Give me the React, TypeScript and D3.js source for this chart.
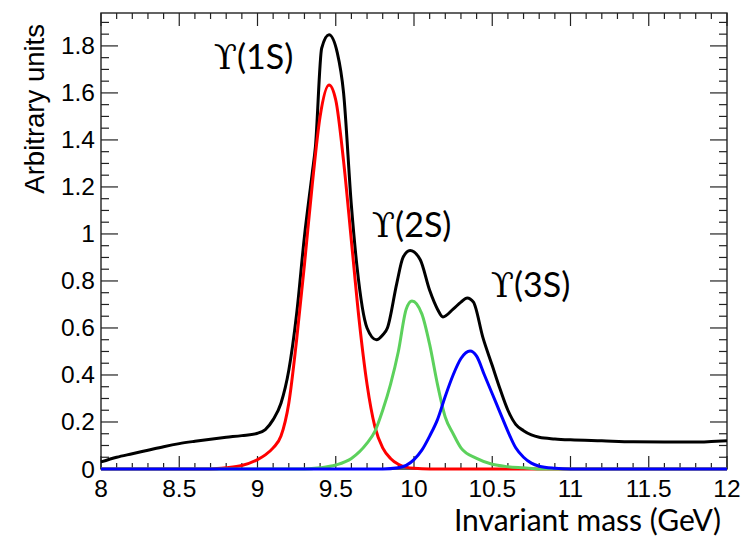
import React from "react";
import * as d3 from "d3";

// ---- data ----
const blackMass = [8.0, 8.1, 8.2, 8.3, 8.4, 8.5, 8.6, 8.7, 8.8, 8.9, 9.0, 9.05, 9.1, 9.15, 9.2, 9.25, 9.3, 9.35, 9.37, 9.41, 9.457, 9.51, 9.55, 9.6, 9.636, 9.7, 9.76, 9.8, 9.83, 9.89, 9.93, 9.975, 10.04, 10.1, 10.15, 10.185, 10.25, 10.3, 10.34, 10.38, 10.44, 10.5, 10.55, 10.6, 10.65, 10.7, 10.75, 10.8, 10.9, 11.0, 11.2, 11.4, 11.6, 11.8, 11.9, 12.0];
const blackValues = [0.03, 0.05, 0.065, 0.08, 0.095, 0.108, 0.118, 0.127, 0.135, 0.142, 0.152, 0.168, 0.21, 0.28, 0.42, 0.66, 0.99, 1.26, 1.37, 1.79, 1.847, 1.77, 1.6, 1.12, 0.86, 0.6, 0.55, 0.57, 0.6, 0.79, 0.9, 0.93, 0.89, 0.76, 0.68, 0.647, 0.68, 0.71, 0.728, 0.71, 0.56, 0.44, 0.34, 0.25, 0.19, 0.163, 0.145, 0.135, 0.128, 0.124, 0.12, 0.116, 0.115, 0.115, 0.117, 0.12];

const redMass = [8.0, 8.7, 8.8, 8.9, 9.0, 9.05, 9.1, 9.15, 9.2, 9.25, 9.3, 9.35, 9.4, 9.457, 9.5, 9.55, 9.6, 9.65, 9.7, 9.75, 9.8, 9.85, 9.9, 9.95, 10.0, 10.1, 12.0];
const redValues = [0, 0, 0.005, 0.015, 0.04, 0.06, 0.09, 0.14, 0.28, 0.55, 0.87, 1.21, 1.5, 1.634, 1.57, 1.31, 0.97, 0.63, 0.36, 0.18, 0.09, 0.045, 0.02, 0.008, 0.003, 0, 0];

const greenMass = [8.0, 9.3, 9.4, 9.5, 9.6, 9.7, 9.75, 9.8, 9.85, 9.9, 9.95, 9.987, 10.05, 10.1, 10.15, 10.2, 10.25, 10.3, 10.4, 10.5, 10.6, 10.7, 10.8, 12.0];
const greenValues = [0, 0, 0.005, 0.017, 0.045, 0.11, 0.16, 0.25, 0.36, 0.5, 0.68, 0.715, 0.66, 0.53, 0.36, 0.22, 0.15, 0.09, 0.045, 0.02, 0.01, 0.005, 0, 0];

const blueMass = [8.0, 9.8, 9.9, 10.0, 10.05, 10.1, 10.15, 10.2, 10.25, 10.3, 10.358, 10.4, 10.45, 10.5, 10.55, 10.6, 10.65, 10.7, 10.75, 10.8, 10.9, 11.0, 12.0];
const blueValues = [0, 0, 0.005, 0.04, 0.08, 0.14, 0.21, 0.31, 0.4, 0.47, 0.502, 0.48, 0.4, 0.32, 0.24, 0.16, 0.09, 0.05, 0.025, 0.012, 0.003, 0, 0];

const xTickValues = [8, 8.5, 9, 9.5, 10, 10.5, 11, 11.5, 12];
const xTickLabels = ["8", "8.5", "9", "9.5", "10", "10.5", "11", "11.5", "12"];
const yTickValues = [0, 0.2, 0.4, 0.6, 0.8, 1, 1.2, 1.4, 1.6, 1.8];
const yTickLabels = ["0", "0.2", "0.4", "0.6", "0.8", "1", "1.2", "1.4", "1.6", "1.8"];

const peakLabels = ["(1S)", "(2S)", "(3S)"];
const peakMass = [8.72, 9.73, 10.49];
const peakHeight = [1.7, 0.985, 0.73];

// ---- layout ----
const W = 745;
const H = 537;
const X0 = 101;
const X1 = 727;
const Y0 = 469;
const Y1 = 13;
const Y_MAX = 1.94;

export default function App() {
  const x = d3.scaleLinear().domain([8, 12]).range([X0, X1]);
  const y = d3.scaleLinear().domain([0, Y_MAX]).range([Y0, Y1]);

  const mk = (ms: number[], vs: number[]) =>
    d3
      .line<number>()
      .x((_, i) => x(ms[i]))
      .y((v) => y(v))
      .curve(d3.curveMonotoneX)(vs) || "";

  const xMinor = d3.range(80, 121, 1).map((k) => k / 10);
  const yMinor = d3.range(0, Math.floor(Y_MAX * 20) + 1).map((k) => k / 20);
  const isMajorX = (v: number) => Math.abs(v * 2 - Math.round(v * 2)) < 1e-6;
  const isMajorY = (v: number) => Math.abs(v * 5 - Math.round(v * 5)) < 1e-6;

  const axisColor = "#222";
  const tickFont = "'Liberation Sans', Arial, Helvetica, sans-serif";
  const gillFont = "Lato, 'Open Sans', sans-serif";

  return (
    <svg
      width={W}
      height={H}
      style={{ position: "absolute", left: 0, top: 0, background: "#fff" }}
    >
      <rect x={0} y={0} width={W} height={H} fill="#fff" />
      {/* ticks */}
      <g stroke={axisColor} strokeWidth={1.2}>
        {xMinor.map((v, i) => {
          const len = isMajorX(v) ? 13 : 6;
          return (
            <g key={"xt" + i}>
              <line x1={x(v)} x2={x(v)} y1={Y0} y2={Y0 - len} />
              <line x1={x(v)} x2={x(v)} y1={Y1} y2={Y1 + len} />
            </g>
          );
        })}
        {yMinor.map((v, i) => {
          const len = isMajorY(v) ? 17 : 8;
          return (
            <g key={"yt" + i}>
              <line x1={X0} x2={X0 + len} y1={y(v)} y2={y(v)} />
              <line x1={X1} x2={X1 - len} y1={y(v)} y2={y(v)} />
            </g>
          );
        })}
      </g>
      <rect
        x={X0}
        y={Y1}
        width={X1 - X0}
        height={Y0 - Y1}
        fill="none"
        stroke={axisColor}
        strokeWidth={1.4}
      />
      {/* curves */}
      <g fill="none" strokeWidth={3} strokeLinejoin="round">
        <path d={mk(blackMass, blackValues)} stroke="#000" />
        <path d={mk(redMass, redValues)} stroke="#ff0000" />
        <path d={mk(greenMass, greenValues)} stroke="#5cd15c" />
        <path d={mk(blueMass, blueValues)} stroke="#0000ff" />
      </g>
      {/* tick labels */}
      <g fontFamily={tickFont} fontSize={24.5} fill="#000">
        {xTickValues.map((v, i) => (
          <text key={"xl" + i} x={x(v)} y={Y0 + 28} textAnchor="middle">
            {xTickLabels[i]}
          </text>
        ))}
        {yTickValues.map((v, i) => (
          <text
            key={"yl" + i}
            x={X0 - 6}
            y={y(v) + 8.5}
            textAnchor="end"
          >
            {yTickLabels[i]}
          </text>
        ))}
      </g>
      {/* axis titles */}
      <text
        transform={`translate(44, 24) rotate(-90)`}
        textAnchor="end"
        fontFamily={tickFont}
        fontSize={27.5}
      >
        Arbitrary units
      </text>
      <text
        x={721}
        y={531}
        textAnchor="end"
        fontFamily={gillFont}
        fontSize={30}
      >
        Invariant mass (GeV)
      </text>
      {/* peak labels */}
      {peakLabels.map((t, i) => (
        <text
          key={"pk" + i}
          x={x(peakMass[i])}
          y={y(peakHeight[i])}
          fontSize={34}
          fontFamily={gillFont}
        >
          <tspan fontFamily="'DejaVu Serif', 'Liberation Serif', serif">
            {"\u03D2"}
          </tspan>
          {t}
        </text>
      ))}
    </svg>
  );
}
